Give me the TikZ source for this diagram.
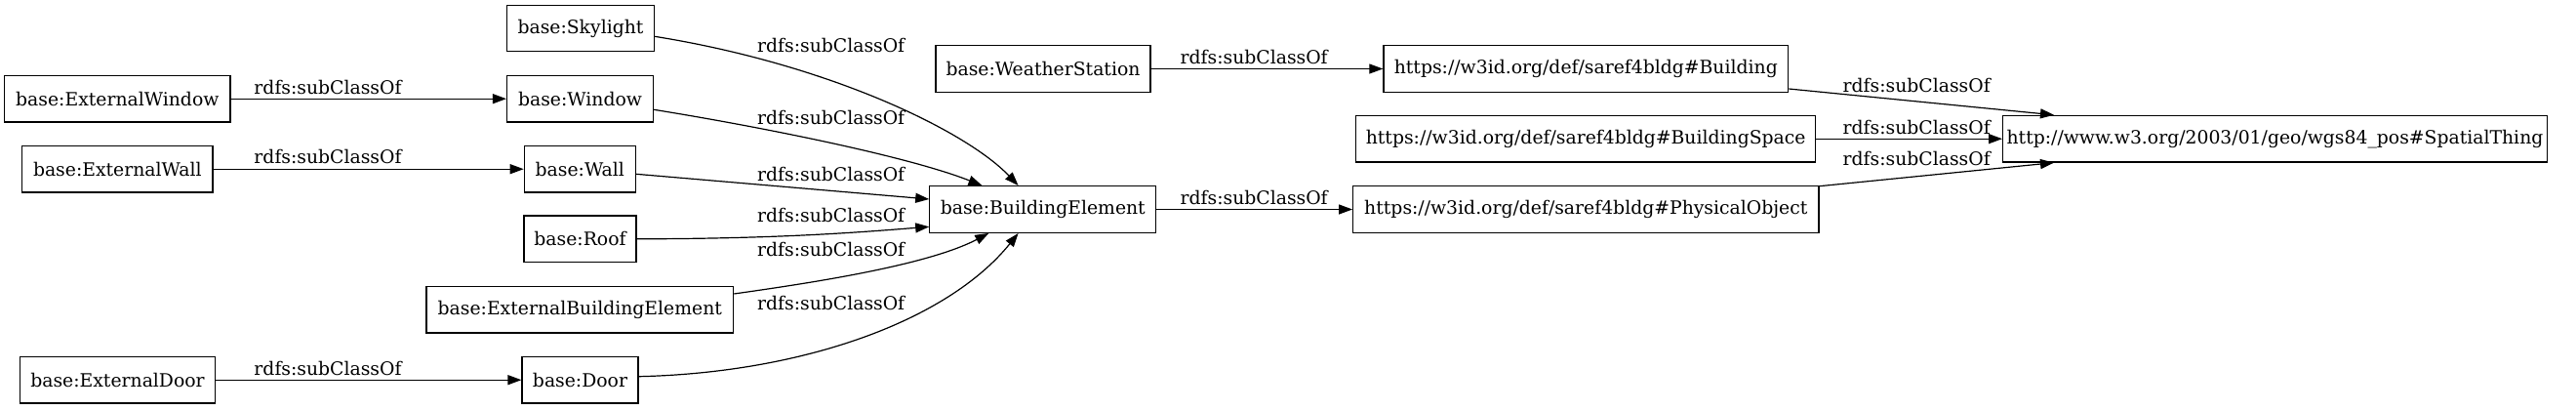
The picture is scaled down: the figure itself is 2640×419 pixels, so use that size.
\documentclass[tikz,border=0pt]{standalone}
\usepackage{fontspec}
\newfontfamily\dvserif{DejaVu Serif}
\newcommand\mylblfont{\dvserif\fontsize{9.4}{11}\selectfont}
\usetikzlibrary{arrows.meta,calc}
\tikzset{
  cls/.style={draw, line width=0.6pt, rectangle, minimum height=23.85pt, inner xsep=2pt, inner ysep=1pt, font=\mylblfont},
  lab/.style={font=\mylblfont, inner sep=0pt, anchor=base},
  sub/.style={-{Triangle[length=7pt,width=5pt]}, line width=0.6pt},
}
\begin{document}
\begin{tikzpicture}[x=0.5pt,y=-0.5pt]
\useasboundingbox (0,0) rectangle (2640,419);
% nodes
\node[cls, minimum width=115.65pt] (ew) at (120.3,101.2) {base:ExternalWindow};
\node[cls, minimum width=97.65pt] (ewall) at (120.3,173.2) {base:ExternalWall};
\node[cls, minimum width=99.85pt] (ed) at (120.5,389.2) {base:ExternalDoor};
\node[cls, minimum width=75.25pt] (sky) at (595,29) {base:Skylight};
\node[cls, minimum width=75pt] (win) at (594.5,101.2) {base:Window};
\node[cls, minimum width=57pt] (wall) at (594.3,173.2) {base:Wall};
\node[cls, minimum width=57.5pt] (roof) at (594.5,244.8) {base:Roof};
\node[cls, minimum width=157.35pt] (ebe) at (594.3,317.2) {base:ExternalBuildingElement};
\node[cls, minimum width=59.5pt] (door) at (594.5,389.2) {base:Door};
\node[cls, minimum width=116pt] (be) at (1068.8,214.5) {base:BuildingElement};
\node[cls, minimum width=110pt] (ws) at (1069,70.5) {base:WeatherStation};
\node[cls, minimum width=207.4pt] (bldg) at (1625.3,70.5) {https://w3id.org/def/saref4bldg\#Building};
\node[cls, minimum width=235.5pt] (bs) at (1625.2,142.2) {https://w3id.org/def/saref4bldg\#BuildingSpace};
\node[cls, minimum width=238.65pt] (po) at (1625.3,214.5) {https://w3id.org/def/saref4bldg\#PhysicalObject};
\node[cls, minimum width=266.15pt] (st) at (2331.5,142.2) {http://www.w3.org/2003/01/geo/wgs84\_pos\#SpatialThing};
% straight edges
\draw[sub] (ew.east) -- (win.west);
\draw[sub] (ewall.east) -- (wall.west);
\draw[sub] (ed.east) -- (door.west);
\draw[sub] (ws.east) -- (bldg.west);
\draw[sub] (be.east) -- (po.west);
\draw[sub] (bs.east) -- (st.west);
\draw[sub] ($(wall.east)+(0,5.1)$) -- ($(be.west)+(0,-10.5)$);
\draw[sub] ($(bldg.east)+(0,20.5)$) -- ($(st.north)+(-226.5,0)$);
\draw[sub] ($(po.east)+(0,-23.8)$) -- ($(st.south)+(-226.5,0)$);
% curved edges
\draw[sub] ($(sky.east)+(0,8.3)$) .. controls (850,66) and (990,134) .. ($(be.north)+(-25.2,0)$);
\draw[sub] ($(win.east)+(0,11.1)$) .. controls (780,130) and (930,160) .. ($(be.north)+(-62.3,0)$);
\draw[sub] (roof.east) .. controls (800,244.5) and (880,238) .. ($(be.west)+(0,17.8)$);
\draw[sub] ($(ebe.east)+(0,-16.2)$) .. controls (830,290) and (950,272) .. ($(be.south)+(-55.5,0)$);
\draw[sub] ($(door.east)+(0,-3.5)$) .. controls (820,382) and (970,330) .. ($(be.south)+(-25.2,0)$);
% labels
\node[lab] (l1) at (336,96) {rdfs:subClassOf};
\node[lab] (l2) at (336,167.7) {rdfs:subClassOf};
\node[lab] (l3) at (336,384) {rdfs:subClassOf};
\node[lab] (l4) at (851.7,53.3) {rdfs:subClassOf};
\node[lab] (l5) at (851.7,127.7) {rdfs:subClassOf};
\node[lab] (l6) at (851.7,185.7) {rdfs:subClassOf};
\node[lab] (l7) at (851.7,227.7) {rdfs:subClassOf};
\node[lab] (l8) at (851.7,262.3) {rdfs:subClassOf};
\node[lab] (l9) at (851.7,317.7) {rdfs:subClassOf};
\node[lab] (l10) at (1285.2,65.7) {rdfs:subClassOf};
\node[lab] (l11) at (1285.2,209.3) {rdfs:subClassOf};
\node[lab] (l12) at (1964.2,94) {rdfs:subClassOf};
\node[lab] (l13) at (1964.2,137.3) {rdfs:subClassOf};
\node[lab] (l14) at (1964.2,169.3) {rdfs:subClassOf};
\end{tikzpicture}
\end{document}
